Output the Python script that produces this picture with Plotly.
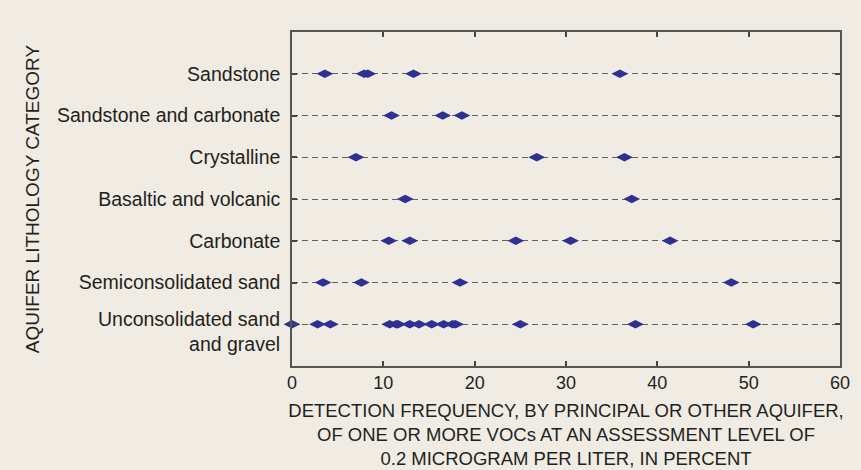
import plotly.graph_objects as go

categories = [
    "Sandstone",
    "Sandstone and carbonate",
    "Crystalline",
    "Basaltic and volcanic",
    "Carbonate",
    "Semiconsolidated sand",
    "Unconsolidated sand<br>and gravel",
]

sandstone = [3.6, 7.9, 8.3, 13.3, 35.9]
sandstone_carbonate = [10.9, 16.5, 18.6]
crystalline = [7.0, 26.8, 36.4]
basaltic_volcanic = [12.4, 37.2]
carbonate = [10.6, 12.9, 24.5, 30.5, 41.4]
semiconsolidated = [3.4, 7.6, 18.4, 48.1]
unconsolidated = [0.0, 2.8, 4.2, 10.7, 11.4, 11.6, 12.9, 13.9, 15.3, 16.6, 17.6, 17.9, 25.0, 37.6, 50.5]

series = [sandstone, sandstone_carbonate, crystalline, basaltic_volcanic,
          carbonate, semiconsolidated, unconsolidated]

x_ticks = [0, 10, 20, 30, 40, 50, 60]

xs, ys = [], []
for cat, vals in zip(categories, series):
    xs += vals
    ys += [cat] * len(vals)

BG = "#f0ece3"
TXT = "#231f20"
FONT = "Liberation Sans, Arial, sans-serif"

# tick labels: the two-line label is drawn as an annotation so its first line sits at the row
ticktext = [c if "<br>" not in c else "" for c in categories]

fig = go.Figure()
fig.add_trace(go.Scatter(
    x=xs, y=ys, mode="markers",
    marker=dict(symbol="diamond-wide", size=12, color="#2e3192",
                line=dict(width=0)),
    cliponaxis=False, showlegend=False, hoverinfo="x+y",
))

for c in categories:
    if "<br>" in c:
        fig.add_annotation(
            x=0, xref="paper", xanchor="right", xshift=-10,
            y=c, yref="y", yanchor="top", yshift=18,
            text=c, showarrow=False, align="right",
            font=dict(size=19.5, family=FONT, color=TXT),
        )

fig.update_layout(
    width=861, height=470,
    margin=dict(l=292, r=21, t=32, b=104),
    paper_bgcolor=BG, plot_bgcolor=BG,
    font=dict(family=FONT, color=TXT, size=18),
    xaxis=dict(
        range=[0, 60], tickvals=x_ticks, ticks="inside", ticklen=5,
        tickcolor="#444", tickwidth=1.5, showline=True, linecolor="#555",
        linewidth=1.5, mirror="ticks", showgrid=False, zeroline=False,
        tickfont=dict(size=18), automargin=False,
        title=dict(text="DETECTION FREQUENCY, BY PRINCIPAL OR OTHER AQUIFER,<br>"
                        "OF ONE OR MORE VOCs AT AN ASSESSMENT LEVEL OF<br>"
                        "0.2 MICROGRAM PER LITER, IN PERCENT",
                   font=dict(size=18.5), standoff=12),
    ),
    yaxis=dict(
        categoryorder="array", categoryarray=categories[::-1],
        tickvals=categories, ticktext=ticktext,
        range=[-1, 7], ticks="inside", ticklen=5, tickcolor="#444",
        tickwidth=1.5, showline=True, linecolor="#555", linewidth=1.5,
        mirror="ticks", showgrid=True, gridcolor="#606060", gridwidth=1,
        griddash="6px,4px", zeroline=False, tickfont=dict(size=19.5),
        ticklabelstandoff=6, automargin=False,
        title=dict(text="AQUIFER LITHOLOGY CATEGORY", font=dict(size=19),
                   standoff=12),
    ),
)

fig.write_html("out.html", config={"displayModeBar": False},
               post_script="document.body.style.margin='0px';")
